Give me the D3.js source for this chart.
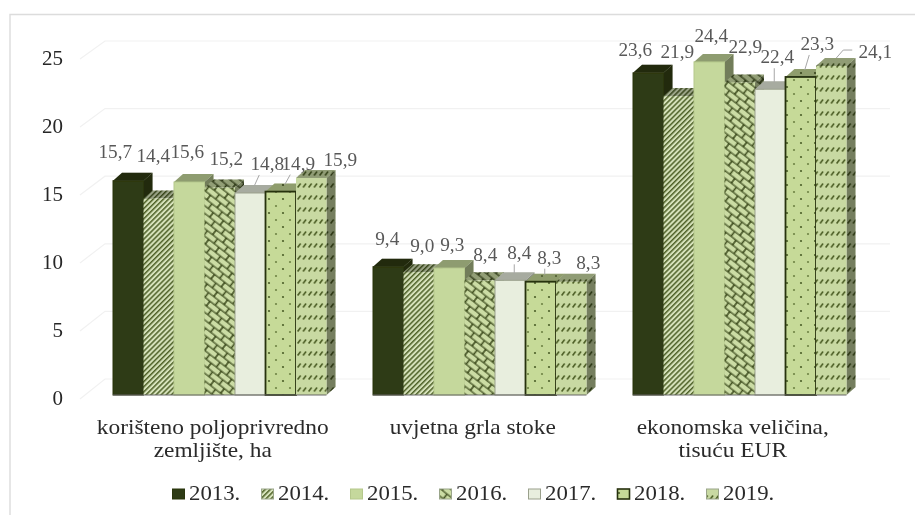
<!DOCTYPE html>
<html><head><meta charset="utf-8">
<style>html,body{margin:0;padding:0;background:#fff}svg{display:block}text{font-family:"Liberation Serif",serif}</style>
<script src="https://cdn.jsdelivr.net/npm/d3@7"></script></head><body><svg id="c" width="915" height="515"></svg>
<script>
const categories = [["korišteno poljoprivredno","zemljište, ha"],["uvjetna grla stoke"],["ekonomska veličina,","tisuću EUR"]];
const years = ["2013.","2014.","2015.","2016.","2017.","2018.","2019."];
const v2013 = [15.7,9.4,23.6];
const v2014 = [14.4,9.0,21.9];
const v2015 = [15.6,9.3,24.4];
const v2016 = [15.2,8.4,22.9];
const v2017 = [14.8,8.4,22.4];
const v2018 = [14.9,8.3,23.3];
const v2019 = [15.9,8.3,24.1];
const yTicks = [0,5,10,15,20,25];
const seriesValues = [v2013,v2014,v2015,v2016,v2017,v2018,v2019];

// label nudges from the top centre of each bar: [dx, dy], per group then per series
const labelNudge = [
 [[-13,-29],[-5.5,-42],[-2,-30],[6.5,-28.5],[17,-29],[17.5,-28],[29,-18]],
 [[-1,-28],[3.5,-26],[3,-23],[5.5,-25],[9,-27],[8.5,-24],[17,-19]],
 [[-13,-23],[-1.5,-44],[2,-26],[5.5,-35],[7,-32],[16.5,-33],[44,-14]]
];
const leaders = [[0,4],[0,5],[1,4],[1,5],[2,4],[2,5]];
const fills = ["#2f3b12","url(#p14)","#c5d89c","url(#p16)","#e8eede","url(#p18)","url(#p19)"];
const strokes = ["#2a350f","none","#b5c88c","none","#9aa08c","#27310e","none"];
const strokeW = [1,0,1,0,1,1.8,0];

const svg = d3.select("#c");
const defs = svg.append("defs");
defs.append("filter").attr("id","soft").attr("x",0).attr("y",0).attr("width",1).attr("height",1)
  .append("feGaussianBlur").attr("stdDeviation",0.5);

function pat(id,w,h,bg,tf){
  const p = defs.append("pattern").attr("id",id).attr("patternUnits","userSpaceOnUse").attr("width",w).attr("height",h);
  if(tf) p.attr("patternTransform",tf);
  p.append("rect").attr("width",w).attr("height",h).attr("fill",bg);
  return p;
}
pat("p14",3.6,3.6,"#d6e2bb","rotate(-45)").append("rect").attr("width",3.6).attr("height",1.5).attr("fill","#4f6228");
const p16 = pat("p16",13,12,"#3f4e1f","rotate(38)");
p16.append("rect").attr("x",.8).attr("y",.7).attr("width",11.4).attr("height",4.8).attr("rx",1).attr("fill","#cbdca4");
p16.append("rect").attr("x",7.3).attr("y",6.7).attr("width",5.7).attr("height",4.8).attr("fill","#cbdca4");
p16.append("rect").attr("x",0).attr("y",6.7).attr("width",5.7).attr("height",4.8).attr("fill","#cbdca4");
const p18 = pat("p18",14,14,"#c6da98");
p18.append("circle").attr("cx",3).attr("cy",3).attr("r",1.1).attr("fill","#4c5f28");
p18.append("circle").attr("cx",10).attr("cy",10).attr("r",1.1).attr("fill","#6f8444");
const p19 = pat("p19",5.5,12,"#c8d9a2");
p19.append("path").attr("d","M0.6 7.5 L3.6 3.5").attr("stroke","#46581f").attr("stroke-width",1.5).attr("fill","none");

const root = svg.append("g").attr("filter","url(#soft)");
root.append("rect").attr("x",0).attr("y",0).attr("width",915).attr("height",515).attr("fill","#fff");
root.append("path").attr("d","M10 515V14.5H915").attr("fill","none").attr("stroke","#dcdcdc").attr("stroke-width",1.4);

const xGroup = d3.scaleBand().domain([0,1,2]).range([113,893]);
const xBar = d3.scaleBand().domain(years).range([0,213.5]);
const y = d3.scaleLinear().domain([0,25]).range([395,53.75]);
const yFront = d3.scaleLinear().domain([0,25]).range([398,58]);
const yWall = d3.scaleLinear().domain([0,25]).range([379,41]);
const depthX = 9, depthY = 8;

// gridlines on the back wall + side wall
const grid = root.append("g").attr("fill","none").attr("stroke","#f1f1f1").attr("stroke-width",1.2);
grid.selectAll("path").data(yTicks).join("path")
  .attr("d",t=>`M80 ${yFront(t)+1}L105 ${yWall(t)}H890`);

// y axis
const axis = root.append("g").attr("transform","translate(63,0)")
  .call(d3.axisLeft(yFront).tickValues(yTicks).tickSize(0).tickPadding(0));
axis.select(".domain").remove();
axis.selectAll("text").attr("font-family","Liberation Serif").attr("font-size",21).attr("fill","#262626");

// bars
seriesValues[0].forEach((_,g)=>{
  const gr = root.append("g");
  years.forEach((yr,s)=>{
    const v = seriesValues[s][g], x0 = xGroup(g)+xBar(yr), w = xBar.bandwidth(), t = y(v), b = y(0);
    const top = `M${x0} ${t}l${depthX} ${-depthY}h${w}l${-depthX} ${depthY}Z`;
    const side = `M${x0+w} ${t}l${depthX} ${-depthY}V${b-depthY}l${-depthX} ${depthY}Z`;
    [[top,.28],[side,.42]].forEach(([d,o])=>{
      gr.append("path").attr("d",d).attr("fill",fills[s]);
      gr.append("path").attr("d",d).attr("fill","#000").attr("opacity",s===0?.3:o);
    });
    gr.append("rect").attr("x",x0).attr("y",t).attr("width",w).attr("height",b-t)
      .attr("fill",fills[s]).attr("stroke",strokes[s]).attr("stroke-width",strokeW[s]);
  });
  gr.append("line").attr("x1",xGroup(g)).attr("x2",xGroup(g)+xBar.range()[1]).attr("y1",y(0)).attr("y2",y(0))
    .attr("stroke","#666").attr("stroke-width",1.2);
});

// leaders
const labelPos = (g,s)=>{
  const v = seriesValues[s][g], n = labelNudge[g][s];
  return [xGroup(g)+xBar(years[s])+xBar.bandwidth()/2+n[0], y(v)+n[1]];
};
const lead = root.append("g").attr("stroke","#a6a6a6").attr("stroke-width",1).attr("fill","none");
leaders.forEach(([g,s])=>{
  const [lx,ly] = labelPos(g,s), v = seriesValues[s][g];
  const bx = xGroup(g)+xBar(years[s])+xBar.bandwidth()/2+4, by = y(v)-depthY+1;
  lead.append("line").attr("x1",bx).attr("y1",by).attr("x2",Math.max(bx,lx-8)).attr("y2",ly+11);
});
{ const [lx,ly] = labelPos(2,6), v = seriesValues[6][2];
  const bx = xGroup(2)+xBar(years[6])+xBar.bandwidth()/2+5;
  lead.append("path").attr("d",`M${bx} ${y(v)-depthY}L${lx-32} ${ly-2}H${lx-23}`); }

// data labels (the reference's type is stretched horizontally)
const dl = root.append("g").attr("font-size",18).attr("fill","#595959").attr("text-anchor","middle");
seriesValues[0].forEach((_,g)=>years.forEach((yr,s)=>{
  const [lx,ly] = labelPos(g,s);
  dl.append("text").attr("transform",`translate(${lx},${ly}) scale(1.07,1)`).attr("dy","0.33em")
    .text(d3.format(".1f")(seriesValues[s][g]).replace(".",","));
}));

// category labels
const cat = root.append("g").attr("font-size",20).attr("fill","#2b2b2b").attr("text-anchor","middle");
categories.forEach((lines,g)=>lines.forEach((l,i)=>{
  cat.append("text").attr("transform",`translate(${xGroup(g)+xBar.range()[1]/2-7},${434+i*23}) scale(1.17,1)`).text(l);
}));

// legend
const legendX = d3.scaleBand().domain(years).range([172,795]);
const leg = root.append("g");
years.forEach((yr,s)=>{
  const x = legendX(yr);
  leg.append("rect").attr("x",x+.5).attr("y",489).attr("width",12).attr("height",10)
    .attr("fill",fills[s]).attr("stroke",strokes[s]==="none"?"#9aa58a":strokes[s]).attr("stroke-width",s===5?1.6:1);
  leg.append("text").attr("transform",`translate(${x+17},500) scale(1.14,1)`).attr("font-size",20).attr("fill","#2b2b2b").text(yr);
});
</script></body></html>
